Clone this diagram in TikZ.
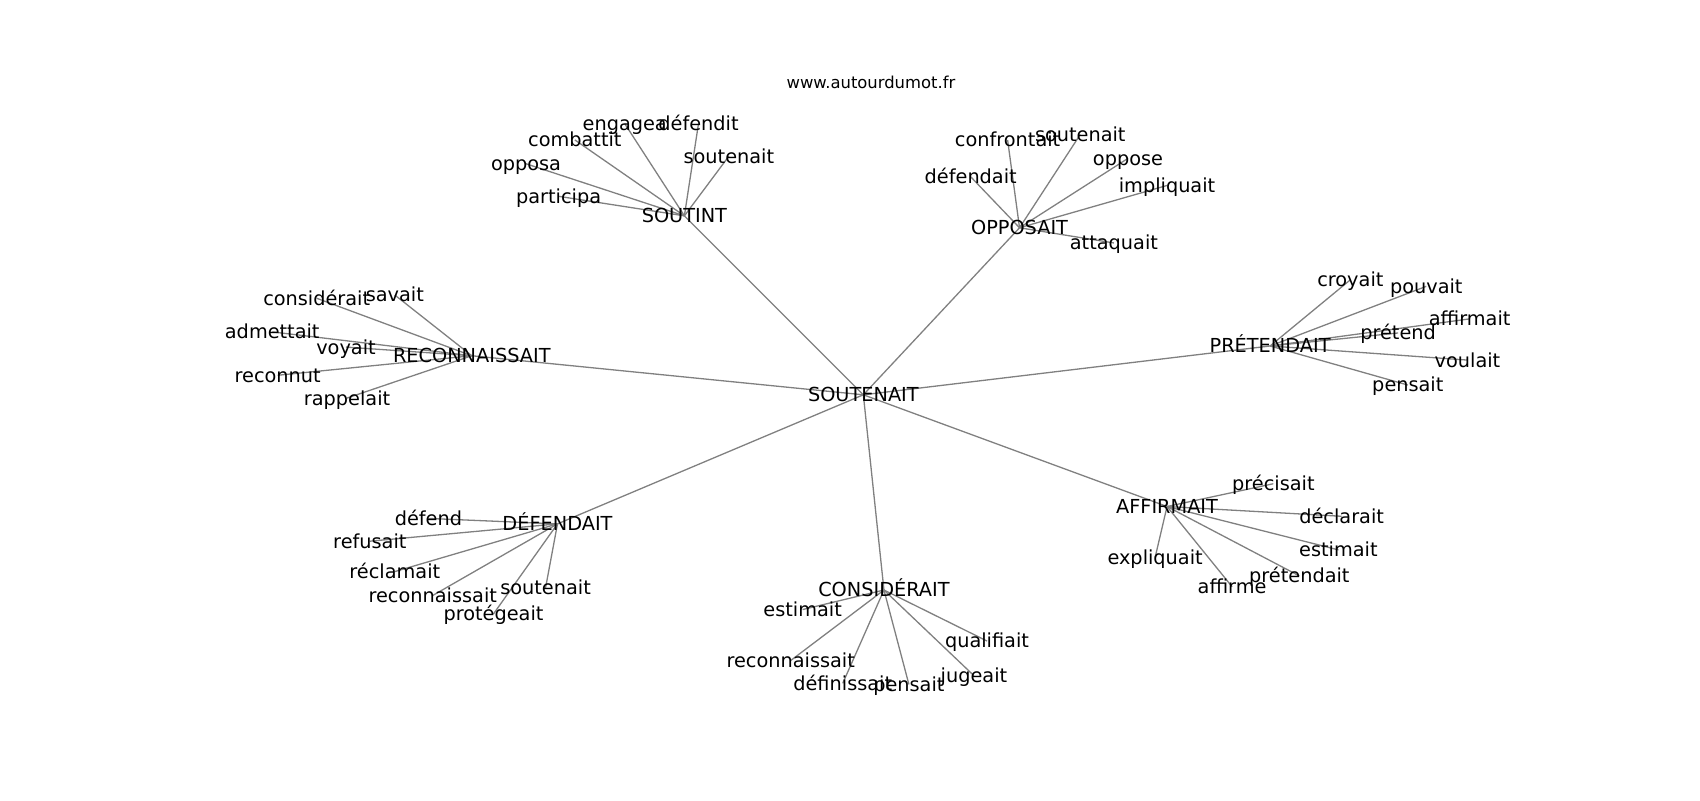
\documentclass[tikz,border=0pt]{standalone}
\usepackage{fontspec}
\setmainfont{DejaVu Sans}
\usetikzlibrary{backgrounds}
\tikzset{
  lbl/.style={inner sep=0pt, outer sep=0pt, text height=13.9pt, text depth=0pt, font=\fontsize{19.3}{21}\selectfont, text=black},
  ttl/.style={inner sep=0pt, text height=11.8pt, text depth=0pt, font=\fontsize{16.4}{18}\selectfont},
  edge/.style={draw=gray, line width=1.3pt}
}
\begin{document}
\begin{tikzpicture}[x=1.0846pt,y=-1.0846pt]
\useasboundingbox (0,0) rectangle (1567.4,737.6);
\node[ttl] (title) at (803,76) {www.autourdumot.fr};
% center
\node[lbl] (c) at (796,364) {SOUTENAIT};
% hubs
\node[lbl] (h1) at (631,199) {SOUTINT};
\node[lbl] (h2) at (940,210) {OPPOSAIT};
\node[lbl] (h3) at (435,328) {RECONNAISSAIT};
\node[lbl] (h4) at (1171,319) {PRÉTENDAIT};
\node[lbl] (h5) at (514,483) {DÉFENDAIT};
\node[lbl] (h6) at (815,544) {CONSIDÉRAIT};
\node[lbl] (h7) at (1076,467) {AFFIRMAIT};
% SOUTINT leaves
\node[lbl] (a1) at (576,114) {engagea};
\node[lbl] (a2) at (644,114) {défendit};
\node[lbl] (a3) at (530,129) {combattit};
\node[lbl] (a4) at (672,144) {soutenait};
\node[lbl] (a5) at (485,151) {opposa};
\node[lbl] (a6) at (515,181) {participa};
% OPPOSAIT leaves
\node[lbl] (b1) at (929,129) {confrontait};
\node[lbl] (b2) at (996,124) {soutenait};
\node[lbl] (b3) at (1040,146) {oppose};
\node[lbl] (b4) at (895,163) {défendait};
\node[lbl] (b5) at (1076,171) {impliquait};
\node[lbl] (b6) at (1027,224) {attaquait};
% RECONNAISSAIT leaves
\node[lbl] (r1) at (292,275) {considérait};
\node[lbl] (r2) at (364,272) {savait};
\node[lbl] (r3) at (251,306) {admettait};
\node[lbl] (r4) at (319,320) {voyait};
\node[lbl] (r5) at (256,346) {reconnut};
\node[lbl] (r6) at (320,367) {rappelait};
% PRETENDAIT leaves
\node[lbl] (p1) at (1245,258) {croyait};
\node[lbl] (p2) at (1315,264) {pouvait};
\node[lbl] (p3) at (1355,294) {affirmait};
\node[lbl] (p4) at (1289,307) {prétend};
\node[lbl] (p5) at (1353,332) {voulait};
\node[lbl] (p6) at (1298,355) {pensait};
% DEFENDAIT leaves
\node[lbl] (d1) at (395,478) {défend};
\node[lbl] (d2) at (341,499) {refusait};
\node[lbl] (d3) at (364,527) {réclamait};
\node[lbl] (d4) at (399,549) {reconnaissait};
\node[lbl] (d5) at (503,542) {soutenait};
\node[lbl] (d6) at (455,566) {protégeait};
% CONSIDERAIT leaves
\node[lbl] (k1) at (740,562) {estimait};
\node[lbl] (k2) at (910,591) {qualifiait};
\node[lbl] (k3) at (729,609) {reconnaissait};
\node[lbl] (k4) at (777,630) {définissait};
\node[lbl] (k5) at (838,631) {pensait};
\node[lbl] (k6) at (898,623) {jugeait};
% AFFIRMAIT leaves
\node[lbl] (f1) at (1174,446) {précisait};
\node[lbl] (f2) at (1237,476) {déclarait};
\node[lbl] (f3) at (1065,514) {expliquait};
\node[lbl] (f4) at (1234,507) {estimait};
\node[lbl] (f5) at (1198,531) {prétendait};
\node[lbl] (f6) at (1136,541) {affirme};
\begin{pgfonlayer}{background}
\foreach \h in {h1,h2,h3,h4,h5,h6,h7} \draw[edge] (c.center) -- (\h.center);
\foreach \l in {a1,a2,a3,a4,a5,a6} \draw[edge] (h1.center) -- (\l.center);
\foreach \l in {b1,b2,b3,b4,b5,b6} \draw[edge] (h2.center) -- (\l.center);
\foreach \l in {r1,r2,r3,r4,r5,r6} \draw[edge] (h3.center) -- (\l.center);
\foreach \l in {p1,p2,p3,p4,p5,p6} \draw[edge] (h4.center) -- (\l.center);
\foreach \l in {d1,d2,d3,d4,d5,d6} \draw[edge] (h5.center) -- (\l.center);
\foreach \l in {k1,k2,k3,k4,k5,k6} \draw[edge] (h6.center) -- (\l.center);
\foreach \l in {f1,f2,f3,f4,f5,f6} \draw[edge] (h7.center) -- (\l.center);
\end{pgfonlayer}
\end{tikzpicture}
\end{document}
